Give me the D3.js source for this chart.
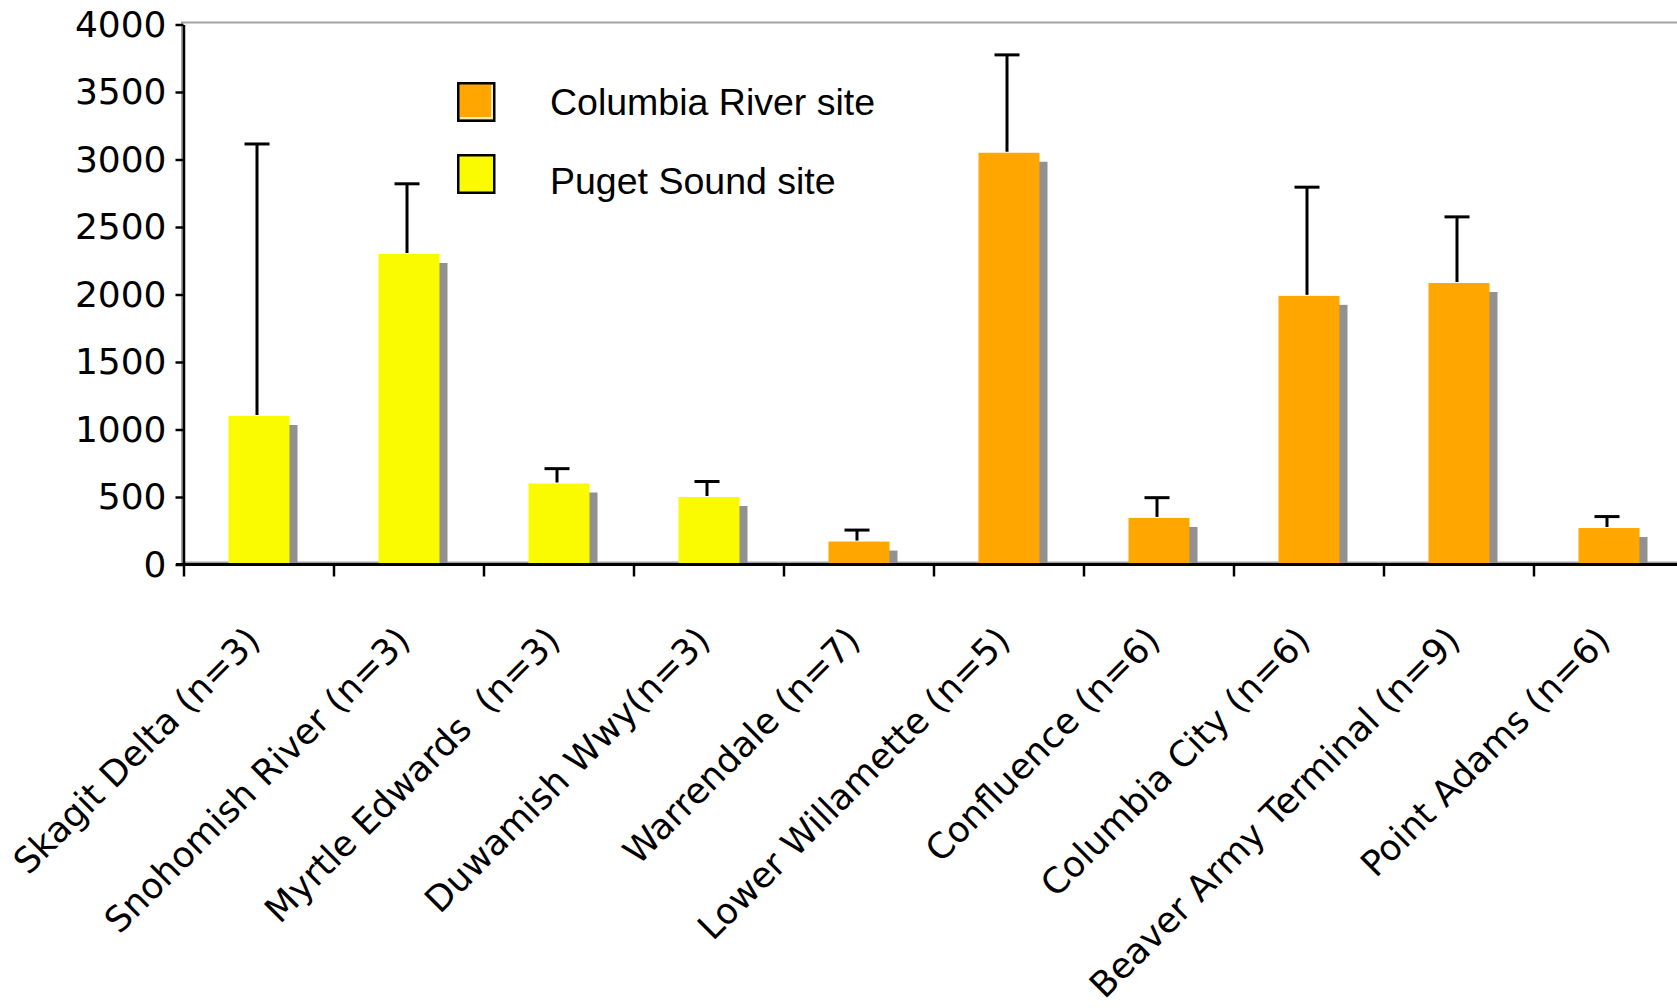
<!DOCTYPE html>
<html>
<head>
<meta charset="utf-8">
<script src="https://cdn.jsdelivr.net/npm/d3@7"></script>
<style>
  html, body { margin: 0; padding: 0; background: #fff; }
  svg { display: block; }
</style>
</head>
<body>
<svg id="chart" width="1677" height="1008"></svg>
<script>
// site labels, left to right
const categories = [
  "Skagit Delta (n=3)",
  "Snohomish River (n=3)",
  "Myrtle Edwards  (n=3)",
  "Duwamish Wwy(n=3)",
  "Warrendale (n=7)",
  "Lower Willamette (n=5)",
  "Confluence (n=6)",
  "Columbia City (n=6)",
  "Beaver Army Terminal (n=9)",
  "Point Adams (n=6)"
];
// which region each site belongs to
const regions = ["Puget", "Puget", "Puget", "Puget",
  "Columbia", "Columbia", "Columbia", "Columbia", "Columbia", "Columbia"];
// bar heights (means)
const means = [1100, 2300, 600, 500, 170, 3050, 345, 1990, 2085, 270];
// upper error (added to mean)
const errors = [2015, 520, 110, 115, 85, 725, 150, 805, 490, 85];
const yTicks = [0, 500, 1000, 1500, 2000, 2500, 3000, 3500, 4000];
const legendItems = [
  { key: "Columbia", label: "Columbia River site" },
  { key: "Puget", label: "Puget Sound site" }
];

const data = categories.map((c, i) => ({
  label: c, region: regions[i], value: means[i], err: errors[i]
}));

const width = 1677, height = 1008;
const plotLeft = 184, plotRight = 1684, plotTop = 24.5, plotBottom = 564.5;
const barWidth = 61;
const shadowDx = 8, shadowDy = 9;
const tickFont = "'DejaVu Sans', Verdana, sans-serif";

const svg = d3.select("#chart");

const color = d3.scaleOrdinal()
  .domain(["Columbia", "Puget"])
  .range(["#ffa600", "#fafa00"]);

const x = d3.scaleBand()
  .domain(categories)
  .range([plotLeft, plotRight])
  .padding(0);

const y = d3.scaleLinear()
  .domain([0, 4000])
  .range([plotBottom, plotTop]);

const cx = d => x(d.label) + x.bandwidth() / 2;

// plot area border (only top / left / floor show)
svg.append("rect")
  .attr("x", plotLeft - 2)
  .attr("y", y(4000) - 2)
  .attr("width", plotRight - plotLeft + 10)
  .attr("height", y(0) - y(4000))
  .attr("fill", "none")
  .attr("stroke", "#a3a3a3")
  .attr("stroke-width", 2);

// shadows behind bars
svg.append("g")
  .selectAll("rect")
  .data(data)
  .join("rect")
    .attr("x", d => cx(d) - barWidth / 2 + shadowDx)
    .attr("y", d => y(d.value) + shadowDy)
    .attr("width", barWidth)
    .attr("height", d => Math.max(0, y(0) - y(d.value) - shadowDy))
    .attr("fill", "#919191");

// bars
svg.append("g")
  .selectAll("rect")
  .data(data)
  .join("rect")
    .attr("x", d => cx(d) - barWidth / 2)
    .attr("y", d => y(d.value))
    .attr("width", barWidth)
    .attr("height", d => y(0) - y(d.value))
    .attr("fill", d => color(d.region));

// error bars (upper only)
const err = svg.append("g")
  .attr("stroke", "#000")
  .attr("stroke-width", 3)
  .selectAll("g")
  .data(data)
  .join("g");
err.append("line")
  .attr("x1", d => cx(d) - 2)
  .attr("x2", d => cx(d) - 2)
  .attr("y1", d => y(d.value) - 1)
  .attr("y2", d => y(d.value + d.err));
err.append("line")
  .attr("x1", d => cx(d) - 2 - 12.5)
  .attr("x2", d => cx(d) - 2 + 12.5)
  .attr("y1", d => y(d.value + d.err))
  .attr("y2", d => y(d.value + d.err));

// y axis
svg.append("g")
  .attr("transform", `translate(${plotLeft - 0.5},0)`)
  .call(d3.axisLeft(y)
    .tickValues(yTicks)
    .tickFormat(d3.format("d"))
    .tickSize(8)
    .tickSizeOuter(0)
    .tickPadding(9))
  .call(g => g.select(".domain").attr("stroke-width", 2.5))
  .call(g => g.selectAll(".tick line").attr("stroke-width", 2.5))
  .call(g => g.selectAll(".tick text")
    .attr("fill", "#000")
    .style("font-family", tickFont)
    .style("font-size", "36px"));

// x axis line + ticks at band edges
const xAxis = svg.append("g");
xAxis.append("line")
  .attr("x1", plotLeft - 8)
  .attr("x2", width)
  .attr("y1", y(0))
  .attr("y2", y(0))
  .attr("stroke", "#000")
  .attr("stroke-width", 3);
xAxis.selectAll(".xtick")
  .data(categories)
  .join("line")
    .attr("class", "xtick")
    .attr("x1", d => x(d))
    .attr("x2", d => x(d))
    .attr("y1", y(0))
    .attr("y2", y(0) + 12)
    .attr("stroke", "#000")
    .attr("stroke-width", 2.5);

// rotated category labels
xAxis.selectAll(".xlabel")
  .data(categories)
  .join("text")
    .attr("class", "xlabel")
    .attr("transform", d => `translate(${x(d) + x.bandwidth() / 2 + 3},${y(0) + 78}) rotate(-45)`)
    .attr("text-anchor", "end")
    .style("font-family", tickFont)
    .style("font-size", "35.5px")
    .style("white-space", "pre")
    .attr("fill", "#000")
    .text(d => d);

// legend
const legend = svg.append("g")
  .selectAll("g")
  .data(legendItems)
  .join("g")
    .attr("transform", (d, i) => `translate(457,${82 + i * 72})`);
legend.append("rect")
  .attr("x", 1.25)
  .attr("y", 1.25)
  .attr("width", 36)
  .attr("height", 37.5)
  .attr("fill", d => color(d.key))
  .attr("stroke", "#000")
  .attr("stroke-width", 2.5);
legend.filter(d => d.key === "Columbia")
  .append("polyline")
  .attr("points", "35,3 35,36 3,36")
  .attr("fill", "none")
  .attr("stroke", "#fff")
  .attr("stroke-width", 1.5);
legend.append("text")
  .attr("x", 93)
  .attr("y", (d, i) => 33 + i * 7)
  .style("font-family", "'Liberation Sans', Arial, Helvetica, sans-serif")
  .style("font-size", "37.5px")
  .attr("fill", "#000")
  .text(d => d.label);
</script>
</body>
</html>
